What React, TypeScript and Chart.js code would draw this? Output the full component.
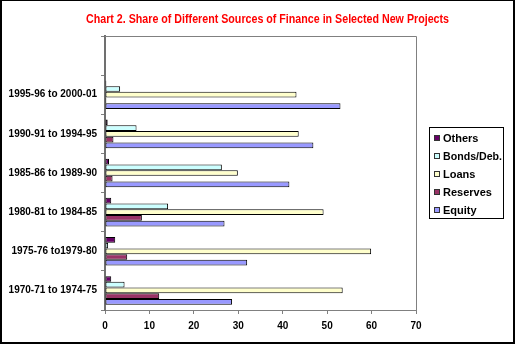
import React, { useEffect, useRef } from "react";
import { Chart, registerables } from "chart.js";

Chart.register(...registerables);

const titleText = "Chart 2. Share of Different Sources of Finance in Selected New Projects";

const categories = [
  "",
  "1995-96 to 2000-01",
  "1990-91 to 1994-95",
  "1985-86 to 1989-90",
  "1980-81 to 1984-85",
  "1975-76 to1979-80",
  "1970-71 to 1974-75",
];

const seriesNames = ["Others", "Bonds/Deb.", "Loans", "Reserves", "Equity"];

const others = [null, 0.3, 0.6, 0.9, 1.4, 2.3, 1.4];
const bonds = [null, 3.4, 7.1, 26.3, 14.2, 0.7, 4.4];
const loans = [null, 43.1, 43.6, 29.9, 49.2, 59.9, 53.5];
const reserves = [null, 0.3, 1.9, 1.7, 8.3, 5.0, 12.2];
const equity = [null, 53.0, 46.9, 41.5, 26.9, 32.0, 28.6];

const seriesColors = ["#660066", "#CCFFFF", "#FFFFCC", "#993366", "#9999FF"];

const xTicks = [0, 10, 20, 30, 40, 50, 60, 70];

const FONT = "'Liberation Sans', Arial, sans-serif";

export default function App() {
  const ref = useRef<HTMLCanvasElement>(null);

  useEffect(() => {
    const canvas = ref.current;
    if (!canvas) return;
    const seriesData = [others, bonds, loans, reserves, equity];

    const decor = {
      id: "decor",
      beforeDraw(chart: any) {
        const ctx = chart.ctx;
        ctx.save();
        ctx.fillStyle = "#ffffff";
        ctx.fillRect(0, 0, chart.width, chart.height);
        ctx.restore();
      },
      afterDraw(chart: any) {
        const ctx = chart.ctx;
        const a = chart.chartArea;
        ctx.save();
        // plot area border (top & right)
        ctx.strokeStyle = "#808080";
        ctx.lineWidth = 1;
        ctx.beginPath();
        ctx.moveTo(a.left, a.top + 0.5);
        ctx.lineTo(a.right + 0.5, a.top + 0.5);
        ctx.lineTo(a.right + 0.5, a.bottom);
        ctx.stroke();

        // title
        ctx.fillStyle = "#FF0000";
        ctx.font = `bold 12px ${FONT}`;
        ctx.textAlign = "center";
        ctx.textBaseline = "alphabetic";
        ctx.fillText(titleText, 267.5, 23, 363);

        // legend box
        ctx.strokeStyle = "#000000";
        ctx.lineWidth = 1;
        ctx.strokeRect(429.5, 127.5, 74, 91);
        ctx.font = `bold 11px ${FONT}`;
        ctx.textAlign = "left";
        ctx.textBaseline = "middle";
        chart.data.datasets.forEach((ds: any, i: number) => {
          const y = 138 + i * 18;
          ctx.fillStyle = ds.backgroundColor;
          ctx.fillRect(434, y - 3, 6, 6);
          ctx.strokeStyle = "#333333";
          ctx.strokeRect(434.5, y - 2.5, 5, 5);
          ctx.fillStyle = "#000000";
          ctx.fillText(ds.label, 443, y + 0.5, 59);
        });

        // outer frame
        ctx.fillStyle = "#000000";
        ctx.fillRect(0, 0, 515, 1);
        ctx.fillRect(0, 0, 2, 344);
        ctx.fillRect(513, 0, 2, 344);
        ctx.fillRect(0, 342, 515, 2);
        ctx.restore();
      },
    };

    const chart = new Chart(canvas, {
      type: "bar",
      data: {
        labels: categories,
        datasets: seriesNames.map((name, i) => ({
          label: name,
          data: seriesData[i] as any,
          backgroundColor: seriesColors[i],
          borderColor: "#000000",
          borderWidth: 1,
          borderSkipped: false,
          categoryPercentage: 0.73,
          barPercentage: 1.0,
        })),
      },
      options: {
        indexAxis: "y",
        responsive: false,
        animation: false,
        maintainAspectRatio: false,
        devicePixelRatio: 1,
        layout: { padding: { top: 36, right: 99, bottom: 0, left: 0 } },
        plugins: {
          legend: { display: false },
          title: { display: false },
          tooltip: { enabled: false },
        },
        scales: {
          x: {
            type: "linear",
            min: 0,
            max: 70,
            afterBuildTicks: (s: any) => {
              s.ticks = xTicks.map((v) => ({ value: v }));
            },
            afterFit: (s: any) => {
              s.height = 34;
            },
            grid: {
              drawOnChartArea: false,
              drawTicks: true,
              tickLength: 4,
              color: "#808080",
            },
            border: { color: "#808080", width: 1 },
            ticks: {
              color: "#000000",
              font: { family: FONT, size: 10, weight: "bold" },
              padding: 6,
            },
          },
          y: {
            type: "category",
            offset: true,
            afterFit: (s: any) => {
              s.width = 105;
            },
            grid: {
              offset: true,
              drawOnChartArea: false,
              drawTicks: true,
              tickLength: 4,
              color: "#808080",
            },
            border: { color: "#707070", width: 2 },
            ticks: {
              color: "#000000",
              font: { family: FONT, size: 10, weight: "bold" },
              padding: 4,
              autoSkip: false,
            },
          },
        },
      },
      plugins: [decor],
    } as any);

    return () => chart.destroy();
  }, []);

  return (
    <div style={{ position: "fixed", left: 0, top: 0, width: 515, height: 344 }}>
      <canvas ref={ref} width={515} height={344} style={{ display: "block" }} />
    </div>
  );
}
